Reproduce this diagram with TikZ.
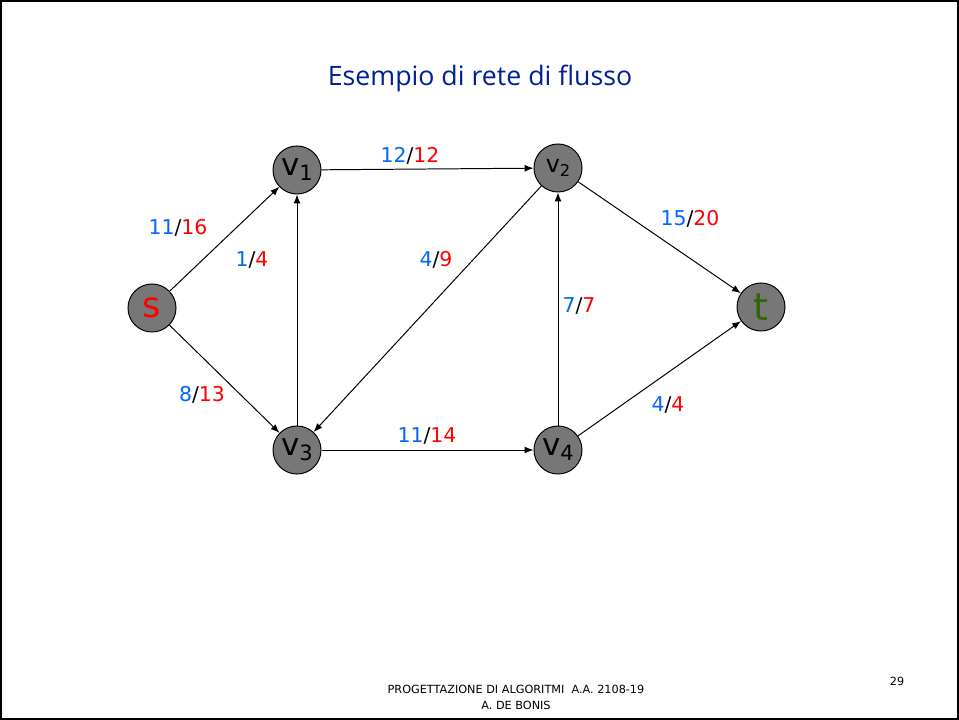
\documentclass[tikz,border=0pt]{standalone}
\usepackage{fontspec}
\setmainfont{DejaVu Sans}
\newfontfamily\slidefont{Open Sans}
\usetikzlibrary{arrows.meta}
\definecolor{NetNavy}{RGB}{0,32,150}
\definecolor{NetBlue}{RGB}{0,102,255}
\definecolor{NetRed}{RGB}{255,0,0}
\definecolor{NetGreen}{RGB}{51,102,0}
\definecolor{NetGray}{RGB}{119,119,119}
\newcommand{\flowcap}[2]{\textcolor{NetBlue}{#1}/\textcolor{NetRed}{#2}}
\newcommand{\vname}[1]{v\raisebox{-0.3ex}{\scalebox{0.68}{#1}}}
\tikzset{
  net/vertex/.style={
    circle,
    draw=black,
    line width=0.7pt,
    fill=NetGray,
    minimum size=1.2cm,
    inner sep=0pt,
    font=\fontsize{22}{24}\selectfont
  },
  net/arrow/.style={-{Latex[length=2.2mm,width=1.7mm]}, line width=0.7pt, draw=black},
  net/flow/.style={font=\fontsize{14.5}{16}\selectfont, inner sep=0pt},
  net/title/.style={font=\slidefont\fontsize{19}{21}\selectfont, text=NetNavy},
  net/footer/.style={font=\fontsize{8}{11.5}\selectfont, align=center}
}
\begin{document}
\begin{tikzpicture}[x=0.025cm,y=-0.025cm]
  \useasboundingbox (0,0) rectangle (959,720);
  \draw[line width=1.4pt] (1,1) rectangle (958,719);
  \node[net/title] (title) at (480,78) {Esempio di rete di flusso};
  \node[net/vertex,text=NetRed,font=\fontsize{25}{27}\selectfont] (s) at (152,308) {s};
  \node[net/vertex] (v1) at (297,170) {\vname{1}};
  \node[net/vertex,font=\fontsize{17}{19}\selectfont] (v2) at (558,168) {\vname{2}};
  \node[net/vertex] (v3) at (297,450) {\vname{3}};
  \node[net/vertex] (v4) at (558,450) {\vname{4}};
  \node[net/vertex,text=NetGreen,font=\fontsize{27}{29}\selectfont] (t) at (761,307) {t};
  \draw[net/arrow] (s) -- (v1);
  \draw[net/arrow] (s) -- (v3);
  \draw[net/arrow] (v3) -- (v1);
  \draw[net/arrow] (v1) -- (v2);
  \draw[net/arrow] (v2) -- (v3);
  \draw[net/arrow] (v4) -- (v2);
  \draw[net/arrow] (v3) -- (v4);
  \draw[net/arrow] (v2) -- (t);
  \draw[net/arrow] (v4) -- (t);
  \node[net/flow] (f1) at (178,228) {\flowcap{11}{16}};
  \node[net/flow] (f2) at (202,395) {\flowcap{8}{13}};
  \node[net/flow] (f3) at (252,260) {\flowcap{1}{4}};
  \node[net/flow] (f4) at (410,156) {\flowcap{12}{12}};
  \node[net/flow] (f5) at (436,260) {\flowcap{4}{9}};
  \node[net/flow] (f6) at (579,306) {\flowcap{7}{7}};
  \node[net/flow] (f7) at (427,436) {\flowcap{11}{14}};
  \node[net/flow] (f8) at (690,219) {\flowcap{15}{20}};
  \node[net/flow] (f9) at (668,405) {\flowcap{4}{4}};
  \node[net/footer] (footer) at (516,697) {PROGETTAZIONE DI ALGORITMI\ \ A.A. 2108-19\\A. DE BONIS};
  \node[net/footer] (page) at (897,681) {29};
\end{tikzpicture}
\end{document}
